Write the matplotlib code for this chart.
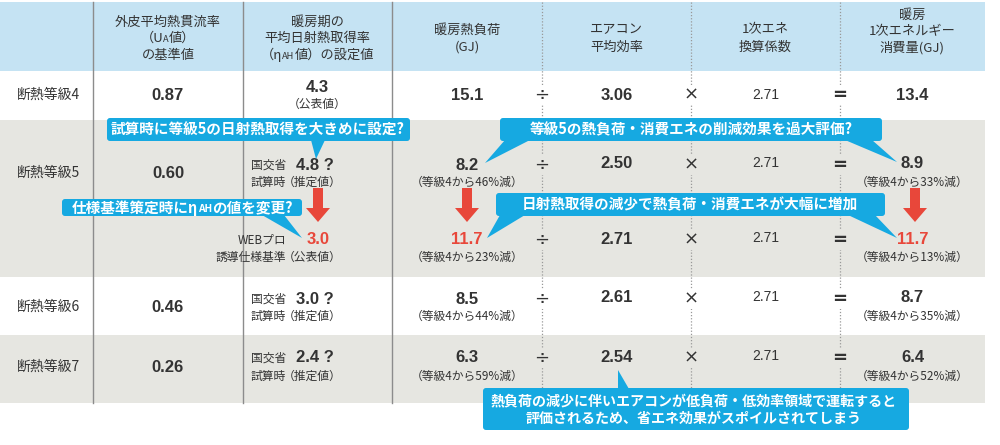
import matplotlib.pyplot as plt
from matplotlib.patches import Rectangle, FancyBboxPatch, Polygon, FancyArrow
from matplotlib.offsetbox import TextArea, HPacker, AnnotationBbox

JP = ["Noto Sans CJK JP", "DejaVu Sans"]
NUM = ["Liberation Sans", "Noto Sans CJK JP"]
OPS = ["DejaVu Sans"]
plt.rcParams["font.family"] = JP

# ---- data ----
grades = ["断熱等級4", "断熱等級5", "断熱等級6", "断熱等級7"]
ua_values = ["0.87", "0.60", "0.46", "0.26"]
eta_values = ["4.3", "4.8 ?", "3.0 ?", "2.4 ?"]
eta_web = "3.0"
heat_load = ["15.1", "8.2", "8.5", "6.3"]
heat_load_note = ["", "（等級4から46%減）", "（等級4から44%減）", "（等級4から59%減）"]
heat_load_web = "11.7"
heat_load_web_note = "（等級4から23%減）"
aircon_eff = ["3.06", "2.50", "2.61", "2.54"]
aircon_eff_web = "2.71"
conv_factor = "2.71"
energy = ["13.4", "8.9", "8.7", "6.4"]
energy_note = ["", "（等級4から33%減）", "（等級4から35%減）", "（等級4から52%減）"]
energy_web = "11.7"
energy_web_note = "（等級4から13%減）"
operators = ["÷", "×", "="]

headers = [
    [[("外皮平均熱貫流率", 1)], [("（U", 1), ("A", 0.7), ("値）", 1)], [("の基準値", 1)]],
    [[("暖房期の", 1)], [("平均日射熱取得率", 1)], [("（η", 1), ("AH", 0.7), ("値）の設定値", 1)]],
    [[("暖房熱負荷", 1)], [("(GJ)", 1)]],
    [[("エアコン", 1)], [("平均効率", 1)]],
    [[("1次エネ", 1)], [("換算係数", 1)]],
    [[("暖房", 1)], [("1次エネルギー", 1)], [("消費量(GJ)", 1)]],
]

callouts = [
    "試算時に等級5の日射熱取得を大きめに設定?",
    [("仕様基準策定時にη", 1), ("AH", 0.7), ("の値を変更?", 1)],
    "等級5の熱負荷・消費エネの削減効果を過大評価?",
    "日射熱取得の減少で熱負荷・消費エネが大幅に増加",
    "熱負荷の減少に伴いエアコンが低負荷・低効率領域で運転すると\n評価されるため、省エネ効果がスポイルされてしまう",
]

# ---- colours / layout ----
HEAD = "#c5e3f3"
GRAY = "#e6e6e1"
BLUE = "#16a9e1"
RED = "#e8473a"
INK = "#333333"

col_edges = [0, 93, 243, 392, 542, 691, 840, 985]
col_mid = [(a + b) / 2 for a, b in zip(col_edges[:-1], col_edges[1:])]
row_top = [71, 120, 277, 335]
row_bot = [120, 277, 335, 403]
row_label_y = [95, 173, 307, 367]
row_y1 = [95, 165, 299, 358]
row_y2 = [104, 182, 316, 376]

fig = plt.figure(figsize=(10, 4.45), dpi=100)
ax = fig.add_axes([0, 0, 1, 1])
ax.set_xlim(0, 1000)
ax.set_ylim(445, 0)
ax.axis("off")


def rich(x, y, parts, size, color=INK, weight="normal", family=JP, align=0.5, z=5):
    areas = [TextArea(s, textprops=dict(size=size * k, color=color, weight=weight, family=family))
             for s, k in parts]
    box = HPacker(children=areas, align="baseline", pad=0, sep=0)
    ab = AnnotationBbox(box, (x, y), frameon=False, box_alignment=(align, 0.5), pad=0)
    ab.set_zorder(z)
    ax.add_artist(ab)


def txt(x, y, s, size, color=INK, weight="normal", family=JP, ha="center", z=5, bg=None):
    kw = {}
    if bg is not None:
        kw["bbox"] = dict(facecolor=bg, edgecolor="none", pad=1)
    ax.text(x, y, s, size=size, color=color, weight=weight, family=family,
            ha=ha, va="center", zorder=z, **kw)


def ops(y, bg):
    for x, op in zip(col_edges[4:7], operators):
        txt(x, y, op, 13, bg=bg, family=OPS, weight="bold" if op == "=" else "normal")


# backgrounds
ax.add_patch(Rectangle((0, 2), 985, 69, facecolor=HEAD, edgecolor="none", zorder=0))
for i, (t, b) in enumerate(zip(row_top, row_bot)):
    if i % 2 == 1:
        ax.add_patch(Rectangle((0, t), 985, b - t, facecolor=GRAY, edgecolor="none", zorder=0))

# separators
for x in col_edges[1:4]:
    ax.plot([x, x], [2, 403], color="#8c8c8c", lw=1, zorder=1)
for x in col_edges[4:7]:
    ax.plot([x, x], [2, 403], color="#999999", lw=0.9, ls=(0, (1, 1.5)), zorder=1)

# header
for c, lines in enumerate(headers):
    n = len(lines)
    if n == 3:
        ys = [22, 38.5, 55] if c < 2 else [15, 31.5, 48]
    else:
        ys = [30, 47]
    for y, parts in zip(ys, lines):
        rich(col_mid[c + 1], y, parts, 9.5)

# rows
for r in range(4):
    bg = GRAY if r % 2 else "white"
    txt(48, row_label_y[r], grades[r], 10)
    txt(col_mid[1], row_label_y[r], ua_values[r], 12, weight="bold", family=NUM)
    if r == 0:
        txt(col_mid[2], 87, eta_values[0], 12, weight="bold", family=NUM)
        txt(col_mid[2], 104, "（公表値）", 8.5)
        txt(col_mid[3], 95, heat_load[0], 12, weight="bold", family=NUM)
        txt(col_mid[4], 95, aircon_eff[0], 12, weight="bold", family=NUM)
        txt(col_mid[5], 95, conv_factor, 10, family=NUM)
        txt(col_mid[6], 95, energy[0], 12, weight="bold", family=NUM)
        ops(95, bg)
        continue
    y1, y2 = row_y1[r], row_y2[r]
    txt(286, y1, "国交省", 8.5, ha="right")
    txt(286, y2, "試算時", 8.5, ha="right")
    txt(296, y1, eta_values[r], 12, weight="bold", family=NUM, ha="left")
    txt(283, y2, "（推定値）", 8.5, ha="left")
    txt(col_mid[3], y1, heat_load[r], 12, weight="bold", family=NUM)
    txt(col_mid[3], y2, heat_load_note[r], 8.5)
    txt(col_mid[4], y1 - 1, aircon_eff[r], 12, weight="bold", family=NUM)
    txt(col_mid[5], y1 - 2, conv_factor, 10, family=NUM)
    txt(col_mid[6], y1 - 1, energy[r], 12, weight="bold", family=NUM)
    txt(col_mid[6], y2, energy_note[r], 8.5)
    ops(y1, bg)

# 等級5 WEBプロ line
txt(286, 240, "WEBプロ", 8.5, ha="right")
txt(286, 257, "誘導仕様基準", 8.5, ha="right")
txt(318, 240, eta_web, 12, weight="bold", color=RED, family=NUM)
txt(283, 257, "（公表値）", 8.5, ha="left")
txt(col_mid[3], 240, heat_load_web, 12, weight="bold", color=RED, family=NUM)
txt(col_mid[3], 257, heat_load_web_note, 8.5)
txt(col_mid[4], 239, aircon_eff_web, 12, weight="bold", family=NUM)
txt(col_mid[5], 238, conv_factor, 10, family=NUM)
txt(col_mid[6], 239, energy_web, 12, weight="bold", color=RED, family=NUM)
txt(col_mid[6], 257, energy_web_note, 8.5)
ops(240, GRAY)

# red arrows
for x in [318, 467, 915]:
    ax.add_patch(FancyArrow(x, 188, 0, 34, width=10, head_width=24, head_length=14,
                            length_includes_head=True, facecolor=RED, edgecolor="none", zorder=4))


# callouts
def bubble(x0, y0, x1, y1, tails):
    ax.add_patch(FancyBboxPatch((x0, y0), x1 - x0, y1 - y0,
                                boxstyle="round,pad=0,rounding_size=3",
                                facecolor=BLUE, edgecolor="none", zorder=6))
    for pts in tails:
        ax.add_patch(Polygon(pts, closed=True, facecolor=BLUE, edgecolor="none", zorder=6))


bubble(107, 118, 410, 141, [[(311, 140), (325, 140), (316, 159)]])
txt(258, 129.5, callouts[0], 10.5, color="white", weight="bold", z=7)

bubble(62, 199, 302, 216, [[(262, 215), (284, 215), (302, 238)]])
rich(182, 207.5, callouts[1], 10.5, color="white", weight="bold", z=7)

bubble(500, 118, 882, 141, [[(505, 140), (530, 140), (485, 163)],
                            [(845, 140), (872, 140), (897, 162)]])
txt(691, 129.5, callouts[2], 10.5, color="white", weight="bold", z=7)

bubble(496, 193, 885, 216, [[(500, 215), (525, 215), (487, 238)],
                            [(848, 215), (875, 215), (897, 238)]])
txt(690, 204.5, callouts[3], 10.5, color="white", weight="bold", z=7)

bubble(483, 388, 909, 430, [[(618, 389), (629, 389), (618, 370)]])
ax.text(694, 410, callouts[4], size=10.1, color="white", weight="bold",
        ha="center", va="center", linespacing=1.3, zorder=7)

fig.savefig("out.png", dpi=100, facecolor="white")
